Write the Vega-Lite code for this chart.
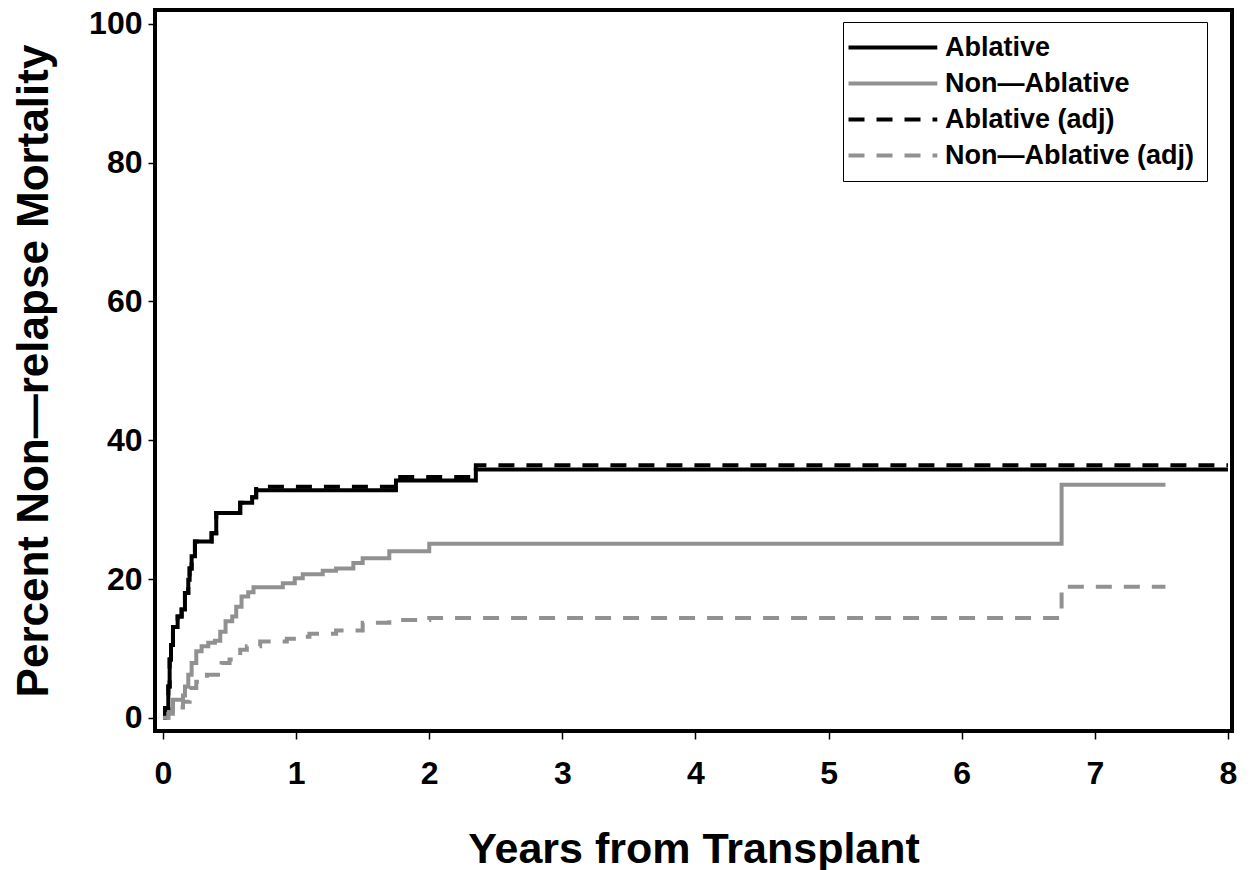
{
  "$schema": "https://vega.github.io/schema/vega-lite/v6.json",
  "width": 1077,
  "height": 721,
  "autosize": {"type": "none"},
  "padding": {"left": 155, "top": 10, "right": 19, "bottom": 139},
  "background": "white",
  "config": {
    "view": {"stroke": "black", "strokeWidth": 4},
    "font": "Liberation Sans"
  },
  "data": {
    "values": [
      {"series": "Ablative", "years": 0, "pct": 0},
      {"series": "Ablative", "years": 0.015, "pct": 1.4},
      {"series": "Ablative", "years": 0.04, "pct": 4.5},
      {"series": "Ablative", "years": 0.05, "pct": 8.4},
      {"series": "Ablative", "years": 0.06, "pct": 10.5},
      {"series": "Ablative", "years": 0.075, "pct": 13.1},
      {"series": "Ablative", "years": 0.11, "pct": 14.6},
      {"series": "Ablative", "years": 0.14, "pct": 15.6},
      {"series": "Ablative", "years": 0.165, "pct": 18},
      {"series": "Ablative", "years": 0.19, "pct": 19.9},
      {"series": "Ablative", "years": 0.2, "pct": 21.5},
      {"series": "Ablative", "years": 0.215, "pct": 23.3},
      {"series": "Ablative", "years": 0.24, "pct": 25.4},
      {"series": "Ablative", "years": 0.365, "pct": 26.6},
      {"series": "Ablative", "years": 0.4, "pct": 29.5},
      {"series": "Ablative", "years": 0.58, "pct": 31},
      {"series": "Ablative", "years": 0.67, "pct": 31.8},
      {"series": "Ablative", "years": 0.7, "pct": 32.8},
      {"series": "Ablative", "years": 1.75, "pct": 34.2},
      {"series": "Ablative", "years": 2.35, "pct": 35.8},
      {"series": "Ablative", "years": 8.0, "pct": 35.8},

      {"series": "Non—Ablative", "years": 0, "pct": 0},
      {"series": "Non—Ablative", "years": 0.04, "pct": 0.9},
      {"series": "Non—Ablative", "years": 0.075, "pct": 2.6},
      {"series": "Non—Ablative", "years": 0.15, "pct": 3.2},
      {"series": "Non—Ablative", "years": 0.165, "pct": 4.5},
      {"series": "Non—Ablative", "years": 0.19, "pct": 6.2},
      {"series": "Non—Ablative", "years": 0.215, "pct": 7.9},
      {"series": "Non—Ablative", "years": 0.25, "pct": 9.6},
      {"series": "Non—Ablative", "years": 0.29, "pct": 10.3},
      {"series": "Non—Ablative", "years": 0.34, "pct": 10.8},
      {"series": "Non—Ablative", "years": 0.39, "pct": 11.1},
      {"series": "Non—Ablative", "years": 0.43, "pct": 12.4},
      {"series": "Non—Ablative", "years": 0.47, "pct": 13.9},
      {"series": "Non—Ablative", "years": 0.52, "pct": 14.6},
      {"series": "Non—Ablative", "years": 0.55, "pct": 16},
      {"series": "Non—Ablative", "years": 0.59, "pct": 17.5},
      {"series": "Non—Ablative", "years": 0.64, "pct": 18.1},
      {"series": "Non—Ablative", "years": 0.68, "pct": 18.8},
      {"series": "Non—Ablative", "years": 0.9, "pct": 19.4},
      {"series": "Non—Ablative", "years": 0.99, "pct": 20.1},
      {"series": "Non—Ablative", "years": 1.05, "pct": 20.7},
      {"series": "Non—Ablative", "years": 1.2, "pct": 21.2},
      {"series": "Non—Ablative", "years": 1.3, "pct": 21.5},
      {"series": "Non—Ablative", "years": 1.43, "pct": 22.3},
      {"series": "Non—Ablative", "years": 1.5, "pct": 23.0},
      {"series": "Non—Ablative", "years": 1.7, "pct": 24.0},
      {"series": "Non—Ablative", "years": 2.0, "pct": 25.1},
      {"series": "Non—Ablative", "years": 6.75, "pct": 33.6},
      {"series": "Non—Ablative", "years": 7.53, "pct": 33.6},

      {"series": "Ablative (adj)", "years": 0, "pct": 0},
      {"series": "Ablative (adj)", "years": 0.015, "pct": 1.4},
      {"series": "Ablative (adj)", "years": 0.04, "pct": 4.5},
      {"series": "Ablative (adj)", "years": 0.05, "pct": 8.4},
      {"series": "Ablative (adj)", "years": 0.06, "pct": 10.5},
      {"series": "Ablative (adj)", "years": 0.075, "pct": 13.1},
      {"series": "Ablative (adj)", "years": 0.11, "pct": 14.6},
      {"series": "Ablative (adj)", "years": 0.14, "pct": 15.6},
      {"series": "Ablative (adj)", "years": 0.165, "pct": 18},
      {"series": "Ablative (adj)", "years": 0.19, "pct": 19.9},
      {"series": "Ablative (adj)", "years": 0.2, "pct": 21.5},
      {"series": "Ablative (adj)", "years": 0.215, "pct": 23.3},
      {"series": "Ablative (adj)", "years": 0.24, "pct": 25.4},
      {"series": "Ablative (adj)", "years": 0.365, "pct": 26.6},
      {"series": "Ablative (adj)", "years": 0.4, "pct": 29.5},
      {"series": "Ablative (adj)", "years": 0.58, "pct": 31},
      {"series": "Ablative (adj)", "years": 0.67, "pct": 31.8},
      {"series": "Ablative (adj)", "years": 0.7, "pct": 33.3},
      {"series": "Ablative (adj)", "years": 1.75, "pct": 34.7},
      {"series": "Ablative (adj)", "years": 2.35, "pct": 36.4},
      {"series": "Ablative (adj)", "years": 8.0, "pct": 36.4},

      {"series": "Non—Ablative (adj)", "years": 0, "pct": 0},
      {"series": "Non—Ablative (adj)", "years": 0.04, "pct": 0.6},
      {"series": "Non—Ablative (adj)", "years": 0.1, "pct": 1.5},
      {"series": "Non—Ablative (adj)", "years": 0.15, "pct": 2.3},
      {"series": "Non—Ablative (adj)", "years": 0.2, "pct": 4.3},
      {"series": "Non—Ablative (adj)", "years": 0.25, "pct": 5.2},
      {"series": "Non—Ablative (adj)", "years": 0.33, "pct": 6.2},
      {"series": "Non—Ablative (adj)", "years": 0.44, "pct": 7.9},
      {"series": "Non—Ablative (adj)", "years": 0.5, "pct": 8.4},
      {"series": "Non—Ablative (adj)", "years": 0.58, "pct": 9.8},
      {"series": "Non—Ablative (adj)", "years": 0.63, "pct": 10.3},
      {"series": "Non—Ablative (adj)", "years": 0.73, "pct": 11.0},
      {"series": "Non—Ablative (adj)", "years": 0.93, "pct": 11.4},
      {"series": "Non—Ablative (adj)", "years": 1.0, "pct": 11.7},
      {"series": "Non—Ablative (adj)", "years": 1.1, "pct": 12.1},
      {"series": "Non—Ablative (adj)", "years": 1.3, "pct": 12.6},
      {"series": "Non—Ablative (adj)", "years": 1.5, "pct": 13.7},
      {"series": "Non—Ablative (adj)", "years": 1.7, "pct": 14.1},
      {"series": "Non—Ablative (adj)", "years": 2.0, "pct": 14.4},
      {"series": "Non—Ablative (adj)", "years": 6.75, "pct": 18.9},
      {"series": "Non—Ablative (adj)", "years": 7.53, "pct": 18.9}
    ]
  },
  "mark": {"type": "line", "interpolate": "step-after", "strokeWidth": 4, "strokeCap": "butt", "clip": true},
  "encoding": {
    "x": {
      "field": "years", "type": "quantitative",
      "scale": {"domain": [-0.06, 8.03], "nice": false, "zero": false},
      "axis": {
        "title": "Years from Transplant",
        "values": [0, 1, 2, 3, 4, 5, 6, 7, 8],
        "format": "d",
        "grid": false, "domain": false,
        "tickColor": "black", "tickSize": 8, "tickWidth": 1.5,
        "labelFontSize": 32, "labelFontWeight": "bold", "labelColor": "black", "labelPadding": 19,
        "titleFontSize": 43, "titleFontWeight": "bold", "titleColor": "black", "titlePadding": 39
      }
    },
    "y": {
      "field": "pct", "type": "quantitative",
      "scale": {"domain": [-1.9, 102], "nice": false, "zero": false},
      "axis": {
        "title": "Percent Non—relapse Mortality",
        "values": [0, 20, 40, 60, 80, 100],
        "grid": false, "domain": false,
        "tickColor": "black", "tickSize": 7, "tickWidth": 1.5,
        "labelFontSize": 32, "labelFontWeight": "bold", "labelColor": "black", "labelPadding": 6,
        "titleFontSize": 44, "titleFontWeight": "bold", "titleColor": "black", "titlePadding": 32
      }
    },
    "color": {
      "field": "series", "type": "nominal",
      "scale": {
        "domain": ["Ablative", "Non—Ablative", "Ablative (adj)", "Non—Ablative (adj)"],
        "range": ["#000000", "#919191", "#000000", "#919191"]
      },
      "legend": {
        "title": null,
        "orient": "none", "legendX": 688, "legendY": 12,
        "symbolType": "M-2.5,0H8.6", "symbolSize": 256, "symbolStrokeWidth": 4,
        "labelFontSize": 27, "labelFontWeight": "bold", "labelColor": "black", "labelOffset": 63, "labelLimit": 400,
        "rowPadding": 8, "padding": 12,
        "strokeColor": "black", "fillColor": "white"
      }
    },
    "strokeDash": {
      "field": "series", "type": "nominal",
      "scale": {
        "domain": ["Ablative", "Non—Ablative", "Ablative (adj)", "Non—Ablative (adj)"],
        "range": [[1, 0], [1, 0], [16, 12], [16, 12]]
      }
    }
  }
}
